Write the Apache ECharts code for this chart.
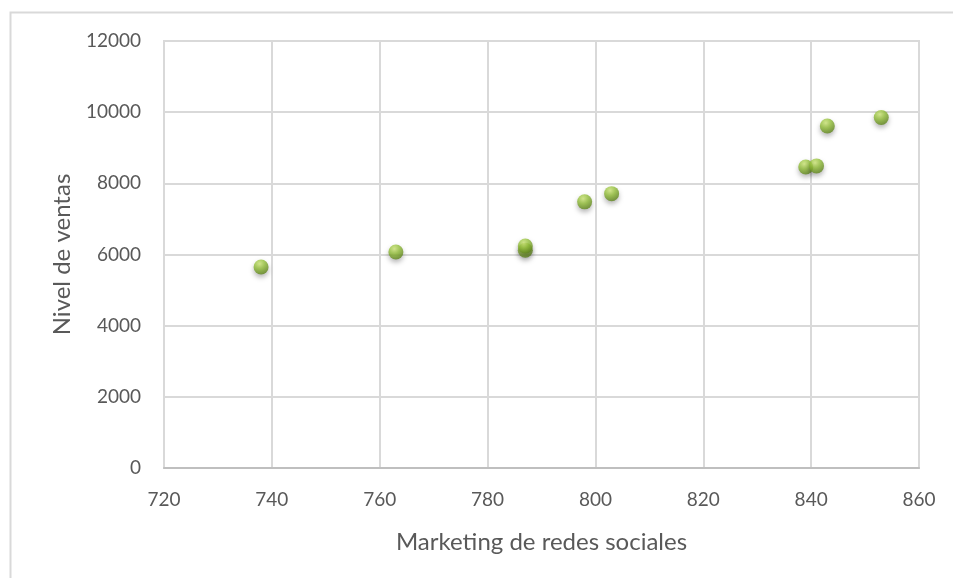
<!DOCTYPE html>
<html>
<head>
<meta charset="utf-8">
<script src="https://cdn.jsdelivr.net/npm/echarts@6/dist/echarts.min.js"></script>
<style>
html,body{margin:0;padding:0;background:#fff;}
#c{width:953px;height:578px;}
</style>
</head>
<body>
<div id="c"></div>
<script>
var marketing = [738, 763, 787, 787, 798, 803, 839, 841, 843, 853];
var ventas = [5650, 6070, 6120, 6240, 7480, 7710, 8460, 8490, 9610, 9850];
var xTicks = [720, 740, 760, 780, 800, 820, 840, 860];
var yTicks = [0, 2000, 4000, 6000, 8000, 10000, 12000];
var xName = 'Marketing de redes sociales';
var yName = 'Nivel de ventas';

var pts = marketing.map(function (x, i) { return [x, ventas[i]]; });
var font = 'Lato, "Open Sans", sans-serif';
var chart = echarts.init(document.getElementById('c'), null, {renderer: 'canvas'});
chart.setOption({
  animation: false,
  backgroundColor: '#ffffff',
  graphic: [{
    type: 'rect', left: 8, top: 10, z: -1,
    shape: {width: 960, height: 580},
    style: {fill: 'none', stroke: '#d9d9d9', lineWidth: 2}
  }],
  grid: {left: 164, right: 34, top: 41, bottom: 110, show: true, borderColor: '#d9d9d9', borderWidth: 2,
    containLabel: false, outerBoundsMode: 'none'},
  xAxis: {
    type: 'value', min: xTicks[0], max: xTicks[xTicks.length - 1], interval: 20,
    name: xName, nameLocation: 'middle', nameGap: 62,
    nameTextStyle: {fontFamily: font, fontSize: 24, color: '#595959'},
    axisLine: {show: true, lineStyle: {color: '#bfbfbf', width: 2}},
    axisTick: {show: false},
    axisLabel: {fontFamily: font, fontSize: 19, color: '#595959', margin: 22,
      formatter: function (v) { return String(v); }},
    splitLine: {show: true, lineStyle: {color: '#d9d9d9', width: 2}}
  },
  yAxis: {
    type: 'value', min: yTicks[0], max: yTicks[yTicks.length - 1], interval: 2000,
    name: yName, nameLocation: 'middle', nameGap: 90, nameRotate: 90,
    nameTextStyle: {fontFamily: font, fontSize: 24, color: '#595959'},
    axisLine: {show: false},
    axisTick: {show: false},
    axisLabel: {fontFamily: font, fontSize: 19, color: '#595959', margin: 23,
      formatter: function (v) { return String(v); }},
    splitLine: {show: true, lineStyle: {color: '#d9d9d9', width: 2}}
  },
  series: [{
    type: 'scatter',
    data: pts,
    symbol: 'circle',
    symbolSize: 15,
    itemStyle: {
      color: new echarts.graphic.RadialGradient(0.4, 0.3, 0.75, [
        {offset: 0, color: '#cfe879'},
        {offset: 0.45, color: '#94c03a'},
        {offset: 1, color: '#5a7f1a'}
      ]),
      shadowColor: 'rgba(0,0,0,0.35)',
      shadowBlur: 5,
      shadowOffsetY: 3
    }
  }]
});
</script>
</body>
</html>
